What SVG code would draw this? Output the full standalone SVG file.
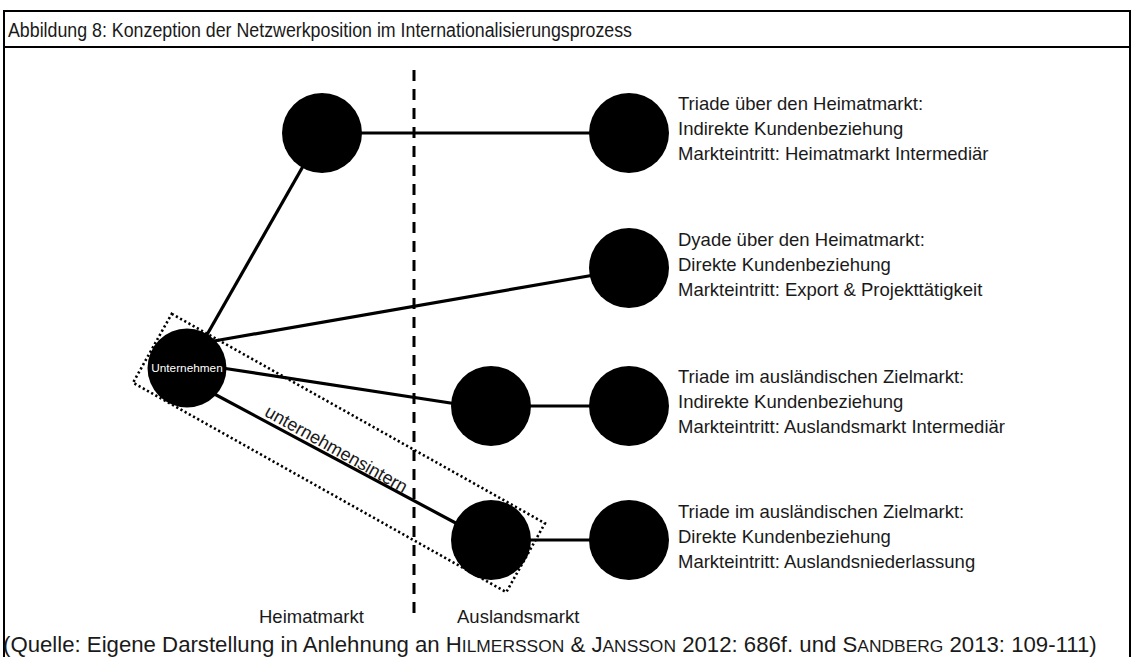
<svg xmlns="http://www.w3.org/2000/svg" width="1131" height="657" viewBox="0 0 1131 657">
  <style>
    text { font-family: "Liberation Sans", Arial, sans-serif; fill: #1a1a1a; }
    .frame { fill: none; stroke: #000; stroke-width: 2; }
    .node { fill: #000; }
    .edge { stroke: #000; stroke-width: 3.2; fill: none; }
    .divider { stroke: #000; stroke-width: 3; stroke-dasharray: 11 8; fill: none; }
    .scope { fill: none; stroke: #000; stroke-width: 2.6; stroke-dasharray: 2.2 2.6; }
    .desc { font-size: 18.5px; }
    .market { font-size: 18.5px; }
    .sc { font-size: 17.4px; }
  </style>

  <rect x="0" y="0" width="1131" height="657" fill="#fff"/>

  <!-- outer frame and caption row -->
  <g id="frame">
    <path class="frame" d="M4 657 V11 H1130 V657"/>
    <line class="frame" x1="4" y1="47" x2="1130" y2="47"/>
    <text x="8" y="37" font-size="19.5" textLength="624" lengthAdjust="spacingAndGlyphs">Abbildung 8: Konzeption der Netzwerkposition im Internationalisierungsprozess</text>
  </g>

  <!-- market boundary -->
  <line id="boundary" class="divider" x1="414" y1="70" x2="414" y2="620"/>

  <!-- dotted scope around the company-internal link -->
  <rect id="scope-intern" class="scope" x="-214" y="-39.5" width="428" height="79" transform="translate(339 453) rotate(29.3)"/>

  <g id="connectors">
    <line class="edge" x1="188" y1="368" x2="322" y2="133"/>
    <line class="edge" x1="322" y1="133" x2="628" y2="133"/>
    <line class="edge" x1="214" y1="341" x2="600" y2="274"/>
    <line class="edge" x1="222" y1="368" x2="470" y2="406"/>
    <line class="edge" x1="205" y1="389" x2="480" y2="536"/>
    <line class="edge" x1="490" y1="406" x2="628" y2="406"/>
    <line class="edge" x1="490" y1="540" x2="628" y2="540"/>
  </g>

  <g id="label-intern" transform="translate(332 457) rotate(29.2)">
    <text x="0" y="-3" font-size="18" text-anchor="middle">unternehmensintern</text>
  </g>

  <g id="unternehmen">
    <circle class="node" cx="187" cy="368" r="39.5"/>
    <text x="187" y="372" font-size="11.8" text-anchor="middle" style="fill:#fff">Unternehmen</text>
  </g>

  <g id="heimat-partner">
    <circle class="node" cx="322" cy="133" r="40"/>
  </g>

  <g id="kunde-triade-heimat">
    <circle class="node" cx="629" cy="133" r="40"/>
    <text class="desc" x="678" y="110">Triade über den Heimatmarkt:</text>
    <text class="desc" x="678" y="135">Indirekte Kundenbeziehung</text>
    <text class="desc" x="678" y="160">Markteintritt: Heimatmarkt Intermediär</text>
  </g>

  <g id="kunde-dyade">
    <circle class="node" cx="629" cy="268" r="40"/>
    <text class="desc" x="678" y="246">Dyade über den Heimatmarkt:</text>
    <text class="desc" x="678" y="271">Direkte Kundenbeziehung</text>
    <text class="desc" x="678" y="296">Markteintritt: Export &amp; Projekttätigkeit</text>
  </g>

  <g id="intermediaer-ausland">
    <circle class="node" cx="491" cy="406" r="40"/>
  </g>

  <g id="kunde-triade-ausland">
    <circle class="node" cx="629" cy="406" r="40"/>
    <text class="desc" x="678" y="383">Triade im ausländischen Zielmarkt:</text>
    <text class="desc" x="678" y="408">Indirekte Kundenbeziehung</text>
    <text class="desc" x="678" y="433">Markteintritt: Auslandsmarkt Intermediär</text>
  </g>

  <g id="niederlassung">
    <circle class="node" cx="491" cy="540" r="40"/>
  </g>

  <g id="kunde-niederlassung">
    <circle class="node" cx="629" cy="540" r="40"/>
    <text class="desc" x="678" y="518">Triade im ausländischen Zielmarkt:</text>
    <text class="desc" x="678" y="543">Direkte Kundenbeziehung</text>
    <text class="desc" x="678" y="568">Markteintritt: Auslandsniederlassung</text>
  </g>

  <g id="market-labels">
    <text class="market" x="259" y="623">Heimatmarkt</text>
    <text class="market" x="457" y="623">Auslandsmarkt</text>
  </g>

  <g id="source">
    <text x="3" y="652" font-size="22.2">(Quelle: Eigene Darstellung in Anlehnung an H<tspan class="sc">ILMERSSON</tspan> &amp; J<tspan class="sc">ANSSON</tspan> 2012: 686f. und S<tspan class="sc">ANDBERG</tspan> 2013: 109-111)</text>
  </g>
</svg>
